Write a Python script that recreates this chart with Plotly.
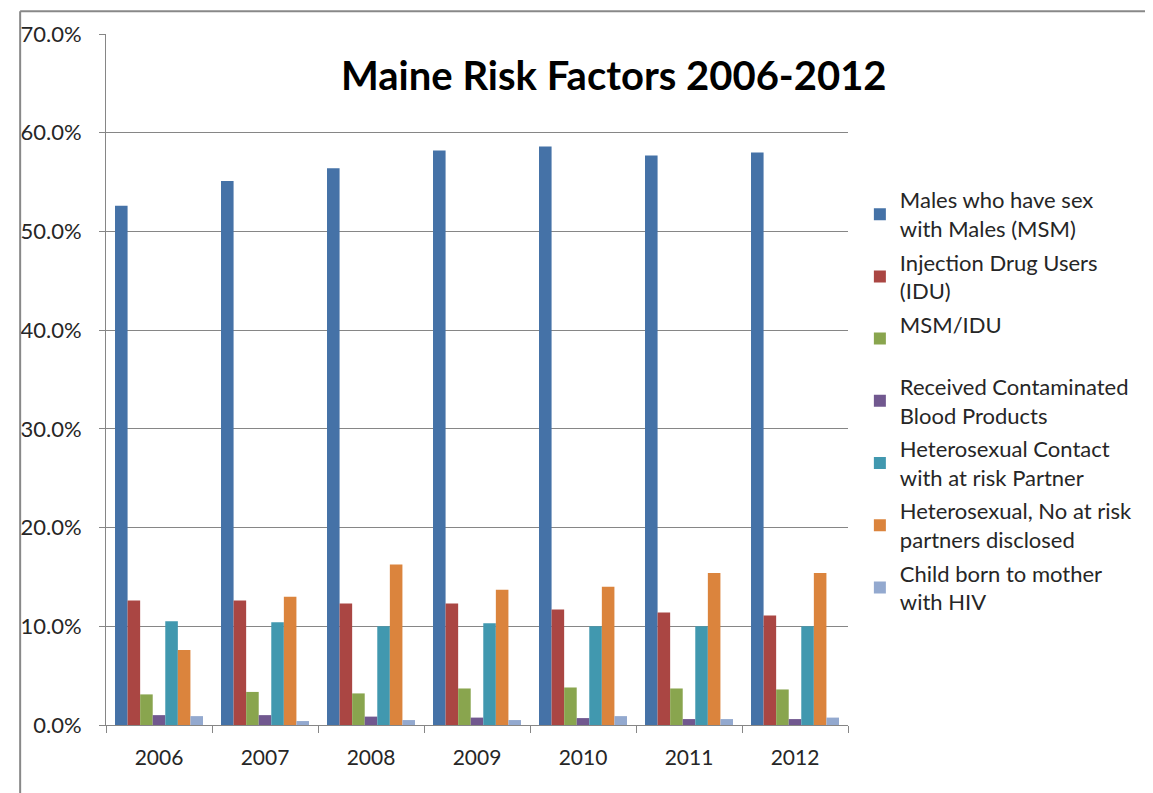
import plotly.graph_objects as go

years = ["2006", "2007", "2008", "2009", "2010", "2011", "2012"]

# percent of cases per risk factor
msm = [52.6, 55.1, 56.4, 58.2, 58.6, 57.7, 58.0]
idu = [12.6, 12.6, 12.3, 12.3, 11.7, 11.4, 11.1]
msm_idu = [3.1, 3.35, 3.2, 3.7, 3.8, 3.7, 3.6]
blood = [1.0, 1.0, 0.85, 0.75, 0.7, 0.6, 0.6]
hetero_risk = [10.5, 10.4, 10.0, 10.3, 10.0, 10.0, 10.0]
hetero_no_risk = [7.6, 13.0, 16.25, 13.7, 14.0, 15.4, 15.4]
child = [0.9, 0.4, 0.5, 0.5, 0.9, 0.6, 0.75]

series = [
    ("Males who have sex<br>with Males (MSM)", msm, "#4572A7"),
    ("Injection Drug Users<br>(IDU)", idu, "#AA4643"),
    ("MSM/IDU<br> ", msm_idu, "#89A54E"),
    ("Received Contaminated<br>Blood Products", blood, "#71588F"),
    ("Heterosexual Contact<br>with at risk Partner", hetero_risk, "#4198AF"),
    ("Heterosexual, No at risk<br>partners disclosed", hetero_no_risk, "#DB843D"),
    ("Child born to mother<br>with HIV", child, "#93A9CF"),
]

font = "Lato, 'Open Sans', sans-serif"

fig = go.Figure()
for i, (name, vals, color) in enumerate(series):
    fig.add_trace(go.Bar(
        x=years, y=[v / 100 for v in vals], name=name,
        marker=dict(color=color, line=dict(width=0)),
        legendgroup=str(i),
    ))

fig.update_layout(
    width=1153, height=793,
    margin=dict(l=88, r=313, t=18, b=76),
    paper_bgcolor="white", plot_bgcolor="white",
    font=dict(family=font, size=22, color="#262626"),
    barmode="group", bargap=0.17, bargroupgap=0,
    showlegend=True,
    legend=dict(
        x=1.016, y=0.79, xanchor="left", yanchor="top",
        font=dict(size=22, color="#262626"),
        tracegroupgap=2, traceorder="grouped",
        bgcolor="rgba(0,0,0,0)",
    ),
    xaxis=dict(
        type="category", showgrid=False, showline=True,
        linecolor="#868686", linewidth=1,
        ticks="outside", ticklen=7, tickcolor="#868686",
        tickson="boundaries", ticklabelstandoff=14,
        tickfont=dict(size=21),
    ),
    yaxis=dict(
        range=[0, 0.7], dtick=0.1, tickformat=".1%",
        showgrid=True, gridcolor="#868686", gridwidth=1,
        showline=True, linecolor="#868686", linewidth=1,
        ticks="outside", ticklen=6, tickcolor="#868686",
        ticklabelstandoff=13,
        zeroline=False,
        tickfont=dict(size=22),
    ),
    annotations=[dict(
        text="<b>Maine Risk Factors 2006-2012</b>",
        x=0.684, y=0.94, xref="paper", yref="paper",
        xanchor="center", yanchor="middle", showarrow=False,
        font=dict(size=40, color="black"),
    )],
    shapes=[
        dict(type="line", xref="paper", yref="paper",
             x0=-0.1157, x1=1.42, y0=1.033, y1=1.033,
             line=dict(color="#888888", width=2)),
        dict(type="line", xref="paper", yref="paper",
             x0=-0.1157, x1=-0.1157, y0=1.033, y1=-0.12,
             line=dict(color="#888888", width=2)),
    ],
)

fig.write_html("out.html")
